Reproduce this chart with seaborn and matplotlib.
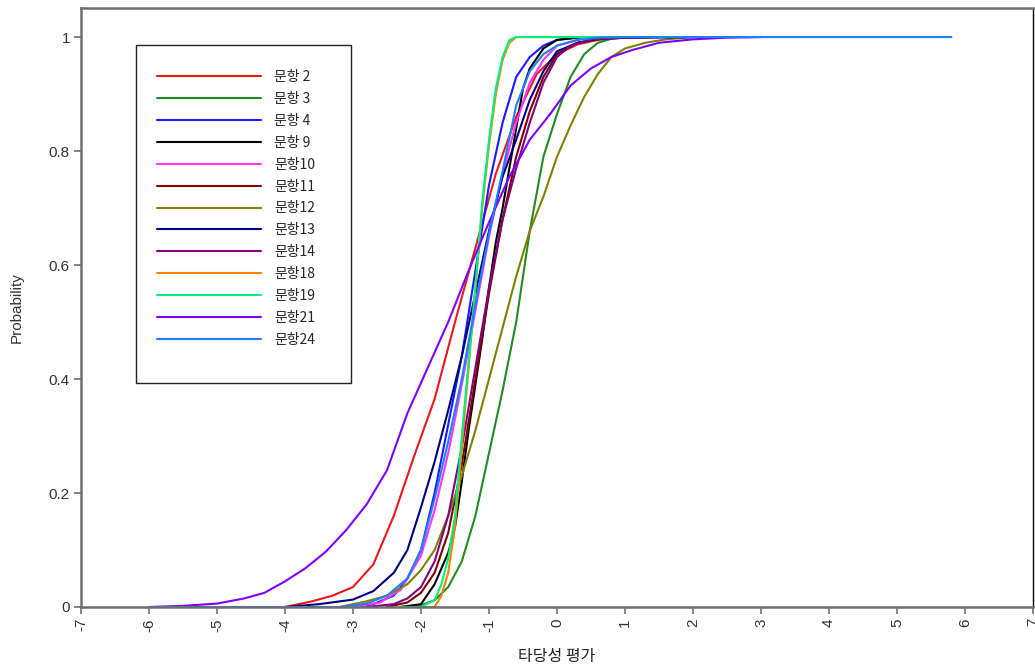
import numpy as np
import pandas as pd
import matplotlib
matplotlib.use("Agg")
import matplotlib.pyplot as plt
from matplotlib.patches import Rectangle
import seaborn as sns

sns.set_theme(style="white")
plt.rcParams['font.family'] = ['Liberation Sans', 'Noto Sans CJK KR', 'DejaVu Sans']

# ---- data (theta, probability) ----
labels = ["문항 2", "문항 3", "문항 4", "문항 9", "문항10", "문항11", "문항12",
          "문항13", "문항14", "문항18", "문항19", "문항21", "문항24"]
colors = ["#e8191b", "#228b22", "#1a1aff", "#000000", "#ff33ff", "#800000", "#808000",
          "#000080", "#800080", "#ff8000", "#00f080", "#8000ff", "#1a80ff"]

x_q2 = [-4.0, -3.6, -3.3, -3.0, -2.7, -2.4, -2.1, -1.8, -1.5, -1.2, -0.9, -0.6, -0.3, 0.0, 0.3, 0.6, 1.0, 1.5]
y_q2 = [0.0, 0.01, 0.02, 0.035, 0.075, 0.16, 0.265, 0.365, 0.50, 0.63, 0.76, 0.86, 0.935, 0.97, 0.987, 0.995, 0.999, 1.0]

x_q3 = [-2.3, -2.0, -1.8, -1.6, -1.4, -1.2, -1.0, -0.8, -0.6, -0.4, -0.2, 0.0, 0.2, 0.4, 0.6, 0.8, 1.0, 1.5]
y_q3 = [0.0, 0.003, 0.012, 0.035, 0.08, 0.16, 0.27, 0.38, 0.50, 0.66, 0.79, 0.865, 0.93, 0.97, 0.99, 0.997, 0.999, 1.0]

x_q4 = [-3.0, -2.7, -2.4, -2.2, -2.0, -1.8, -1.6, -1.4, -1.2, -1.0, -0.8, -0.6, -0.4, -0.2, 0.0, 0.3, 1.0]
y_q4 = [0.0, 0.005, 0.02, 0.05, 0.10, 0.20, 0.32, 0.44, 0.59, 0.74, 0.85, 0.93, 0.965, 0.985, 0.995, 0.999, 1.0]

x_q9 = [-2.3, -2.0, -1.8, -1.6, -1.5, -1.4, -1.3, -1.2, -1.1, -1.0, -0.9, -0.8, -0.7, -0.6, -0.5, -0.4, -0.2, 0.0, 0.3, 1.0]
y_q9 = [0.0, 0.005, 0.04, 0.095, 0.14, 0.22, 0.31, 0.39, 0.47, 0.56, 0.64, 0.70, 0.77, 0.84, 0.91, 0.945, 0.98, 0.995, 0.999, 1.0]

x_q10 = [-3.0, -2.6, -2.3, -2.0, -1.8, -1.6, -1.4, -1.2, -1.0, -0.8, -0.6, -0.4, -0.2, 0.0, 0.4, 1.0]
y_q10 = [0.0, 0.008, 0.03, 0.09, 0.17, 0.27, 0.39, 0.52, 0.65, 0.76, 0.85, 0.92, 0.96, 0.985, 0.998, 1.0]

x_q11 = [-2.5, -2.2, -2.0, -1.8, -1.6, -1.4, -1.2, -1.0, -0.8, -0.6, -0.4, -0.2, 0.0, 0.3, 0.7, 1.2]
y_q11 = [0.0, 0.008, 0.025, 0.06, 0.13, 0.25, 0.40, 0.55, 0.68, 0.79, 0.87, 0.93, 0.97, 0.99, 0.998, 1.0]

x_q12 = [-3.2, -2.8, -2.5, -2.2, -2.0, -1.8, -1.6, -1.4, -1.2, -1.0, -0.8, -0.6, -0.4, -0.2, 0.0,
         0.2, 0.4, 0.6, 0.8, 1.0, 1.3, 1.6, 2.0]
y_q12 = [0.0, 0.01, 0.02, 0.04, 0.065, 0.10, 0.16, 0.23, 0.31, 0.40, 0.49, 0.58, 0.66, 0.72, 0.79,
         0.845, 0.895, 0.935, 0.965, 0.98, 0.99, 0.996, 1.0]

x_q13 = [-4.0, -3.5, -3.0, -2.7, -2.4, -2.2, -2.0, -1.8, -1.6, -1.4, -1.2, -1.0, -0.8, -0.6, -0.4,
         -0.2, 0.0, 0.3, 0.6, 1.0, 2.4]
y_q13 = [0.0, 0.005, 0.013, 0.028, 0.06, 0.10, 0.175, 0.255, 0.345, 0.44, 0.55, 0.66, 0.755, 0.82, 0.89,
         0.94, 0.975, 0.99, 0.997, 0.999, 1.0]

x_q14 = [-2.8, -2.4, -2.2, -2.0, -1.8, -1.6, -1.4, -1.2, -1.0, -0.8, -0.6, -0.4, -0.2, 0.0, 0.2, 0.5, 1.0, 1.4]
y_q14 = [0.0, 0.005, 0.015, 0.035, 0.08, 0.16, 0.28, 0.42, 0.56, 0.68, 0.77, 0.85, 0.92, 0.965, 0.985, 0.996, 0.999, 1.0]

x_q18 = [-2.1, -1.8, -1.7, -1.6, -1.5, -1.4, -1.3, -1.2, -1.1, -1.0, -0.9, -0.8, -0.7, -0.6, 0.5]
y_q18 = [0.0, 0.0, 0.02, 0.06, 0.14, 0.28, 0.42, 0.56, 0.70, 0.81, 0.90, 0.96, 0.99, 1.0, 1.0]

x_q19 = [-2.3, -2.0, -1.8, -1.7, -1.6, -1.5, -1.4, -1.3, -1.2, -1.1, -1.0, -0.9, -0.8, -0.7, -0.6, 0.0, 1.0]
y_q19 = [0.0, 0.0, 0.012, 0.04, 0.085, 0.16, 0.30, 0.43, 0.56, 0.71, 0.82, 0.91, 0.965, 0.995, 1.0, 1.0, 1.0]

x_q21 = [-6.0, -5.5, -5.0, -4.6, -4.3, -4.0, -3.7, -3.4, -3.1, -2.8, -2.5, -2.2, -1.9, -1.6, -1.3,
         -1.0, -0.7, -0.4, -0.1, 0.2, 0.5, 0.8, 1.1, 1.5, 2.0, 2.5, 3.0]
y_q21 = [0.0, 0.002, 0.006, 0.015, 0.025, 0.045, 0.068, 0.097, 0.135, 0.18, 0.24, 0.34, 0.42, 0.50, 0.59,
         0.675, 0.755, 0.82, 0.865, 0.915, 0.945, 0.965, 0.977, 0.99, 0.996, 0.999, 1.0]

x_q24 = [-6.0, -3.2, -2.8, -2.5, -2.2, -2.0, -1.8, -1.6, -1.4, -1.2, -1.0, -0.8, -0.6, -0.4, -0.2,
         0.0, 0.3, 0.6, 1.0, 5.8]
y_q24 = [0.0, 0.0, 0.006, 0.02, 0.05, 0.10, 0.19, 0.29, 0.40, 0.53, 0.655, 0.765, 0.88, 0.94, 0.97,
         0.985, 0.995, 0.999, 1.0, 1.0]

series_x = [x_q2, x_q3, x_q4, x_q9, x_q10, x_q11, x_q12, x_q13, x_q14, x_q18, x_q19, x_q21, x_q24]
series_y = [y_q2, y_q3, y_q4, y_q9, y_q10, y_q11, y_q12, y_q13, y_q14, y_q18, y_q19, y_q21, y_q24]

x_ticks = list(range(-7, 8))
y_ticks = [0, 0.2, 0.4, 0.6, 0.8, 1.0]
y_ticklabels = ["0", "0.2", "0.4", "0.6", "0.8", "1"]

frames = []
for lab, xs, ys in zip(labels, series_x, series_y):
    frames.append(pd.DataFrame({"theta": xs, "prob": ys, "item": lab}))
df = pd.concat(frames, ignore_index=True)

fig = plt.figure(figsize=(10.35, 6.71), dpi=100)
ax = fig.add_axes([81 / 1035, 1 - 607 / 671, (1033 - 81) / 1035, (607 - 8) / 671])

sns.lineplot(data=df, x="theta", y="prob", hue="item", hue_order=labels,
             palette=dict(zip(labels, colors)), estimator=None, sort=False,
             linewidth=1.5, ax=ax)

ax.set_xlim(-7, 7)
ax.set_ylim(0, 1.051)
ax.set_xticks(x_ticks)
ax.set_xticklabels([str(v) for v in x_ticks], rotation=90, fontsize=11, color="#333333")
ax.set_yticks(y_ticks)
ax.set_yticklabels(y_ticklabels, fontsize=11, color="#333333")
ax.tick_params(axis="both", which="both", direction="out", length=5, width=1.2,
               color="#707070", bottom=True, left=True, pad=3)

for side in ["left", "bottom", "top"]:
    ax.spines[side].set_color("#6e6e6e")
    ax.spines[side].set_linewidth(1.8)
ax.spines["right"].set_color("#000000")
ax.spines["right"].set_linewidth(1.0)

ax.set_xlabel("타당성 평가", fontsize=11.5, color="#222222", labelpad=12,
              family=['Noto Sans CJK KR', 'DejaVu Sans'])
ax.set_ylabel("Probability", fontsize=11, color="#333333", labelpad=18)

# legend box
ax_w = 1033 - 81
ax_h = 607 - 8
rx0 = (136 - 81) / ax_w
ry0 = (607 - 383) / ax_h
rw = (351 - 136) / ax_w
rh = (383 - 45) / ax_h
ax.add_patch(Rectangle((rx0, ry0), rw, rh, transform=ax.transAxes, fill=True,
                       facecolor="white", edgecolor="#222222", linewidth=1.0, zorder=5))

handles, lbls = ax.get_legend_handles_labels()
leg = ax.legend(handles, lbls, loc="upper left",
                bbox_to_anchor=((150 - 81) / ax_w, (607 - 63) / ax_h),
                frameon=False, handlelength=7.5, handletextpad=0.95,
                labelspacing=0.57, borderpad=0.0,
                prop={'family': ['Noto Sans CJK KR', 'DejaVu Sans'], 'size': 10})
leg.set_zorder(6)

fig.savefig("out.png", dpi=100, facecolor="white")
